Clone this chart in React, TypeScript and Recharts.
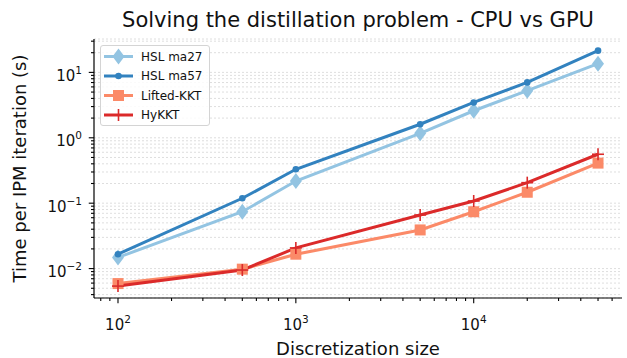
import React from "react";
import { LineChart, Line, XAxis, YAxis, CartesianGrid, Legend } from "recharts";

// discretization sizes and time per IPM iteration (s)
const sizes = [100, 500, 1000, 5000, 10000, 20000, 50000];
const ma27 = [0.0148, 0.074, 0.218, 1.17, 2.59, 5.25, 13.6];
const ma57 = [0.0166, 0.119, 0.33, 1.61, 3.47, 7.03, 21.5];
const lifted = [0.0059, 0.0098, 0.0166, 0.039, 0.074, 0.147, 0.41];
const hykkt = [0.0054, 0.0095, 0.0207, 0.066, 0.108, 0.206, 0.56];

const xMajor = [100, 1000, 10000];
const xMinor = [80, 90, 200, 300, 400, 500, 600, 700, 800, 900, 2000, 3000, 4000, 5000, 6000, 7000, 8000, 9000, 20000, 30000, 40000, 50000, 60000];
const yMajor = [0.01, 0.1, 1, 10];
const yMinor = [
  0.004, 0.005, 0.006, 0.007, 0.008, 0.009,
  0.02, 0.03, 0.04, 0.05, 0.06, 0.07, 0.08, 0.09,
  0.2, 0.3, 0.4, 0.5, 0.6, 0.7, 0.8, 0.9,
  2, 3, 4, 5, 6, 7, 8, 9, 20, 30,
];

const xTicks = [...xMinor, ...xMajor].sort((a, b) => a - b);
const yTicks = [...yMinor, ...yMajor].sort((a, b) => a - b);

const rows = sizes.map((x, i) => ({
  x,
  ma27: ma27[i],
  ma57: ma57[i],
  lifted: lifted[i],
  hykkt: hykkt[i],
}));

const C_MA27 = "#93c4e2";
const C_MA57 = "#3282bf";
const C_LIFT = "#fb8a68";
const C_HY = "#db2a2a";
const FONT = "'DejaVu Sans', sans-serif";

const isMajor = (v: number) => xMajor.includes(v) || yMajor.includes(v);

function Pow({ v, x, y, anchor }: { v: number; x: number; y: number; anchor: string }) {
  const e = Math.round(Math.log10(v));
  const exp = e < 0 ? `\u2212${-e}` : `${e}`;
  return (
    <text x={x} y={y} textAnchor={anchor} fontSize={15} fill="#111" fontFamily={FONT}>
      <tspan>10</tspan>
      <tspan dy={-7} fontSize={10.5}>{exp}</tspan>
    </text>
  );
}

function XTick(props: any) {
  const { x, y, payload } = props;
  const major = isMajor(payload.value);
  return (
    <g>
      <line x1={x} x2={x} y1={y} y2={y + (major ? 5.25 : 3)} stroke="#000" strokeWidth={1.1} />
      {major && <Pow v={payload.value} x={x} y={y + 31.5} anchor="middle" />}
    </g>
  );
}

function YTick(props: any) {
  const { x, y, payload } = props;
  const major = isMajor(payload.value);
  return (
    <g>
      <line x1={x} x2={x - (major ? 5.25 : 3)} y1={y} y2={y} stroke="#000" strokeWidth={1.1} />
      {major && <Pow v={payload.value} x={x - 12} y={y + 8.5} anchor="end" />}
    </g>
  );
}

function Diamond({ cx, cy }: { cx: number; cy: number }) {
  return <polygon points={`${cx},${cy - 8} ${cx + 6},${cy} ${cx},${cy + 8} ${cx - 6},${cy}`} fill={C_MA27} />;
}
function Dot({ cx, cy }: { cx: number; cy: number }) {
  return <circle cx={cx} cy={cy} r={3.3} fill={C_MA57} />;
}
function Square({ cx, cy }: { cx: number; cy: number }) {
  return <rect x={cx - 5.5} y={cy - 5.5} width={11} height={11} fill={C_LIFT} />;
}
function Plus({ cx, cy }: { cx: number; cy: number }) {
  return (
    <g stroke={C_HY} strokeWidth={1.6}>
      <line x1={cx - 6} x2={cx + 6} y1={cy} y2={cy} />
      <line x1={cx} x2={cx} y1={cy - 6} y2={cy + 6} />
    </g>
  );
}

const series = [
  { key: "ma27", name: "HSL ma27", color: C_MA27, Marker: Diamond },
  { key: "ma57", name: "HSL ma57", color: C_MA57, Marker: Dot },
  { key: "lifted", name: "Lifted-KKT", color: C_LIFT, Marker: Square },
  { key: "hykkt", name: "HyKKT", color: C_HY, Marker: Plus },
];

function LegendBox() {
  return (
    <div
      style={{
        width: 108,
        height: 79,
        border: "1px solid #d4d4d4",
        borderRadius: 3,
        background: "rgba(255,255,255,0.85)",
      }}
    >
      <svg width={108} height={79} style={{ display: "block" }}>
        {series.map((s, i) => {
          const cy = 10.5 + i * 19.5;
          const M = s.Marker;
          return (
            <g key={s.key}>
              <line x1={3} x2={32} y1={cy} y2={cy} stroke={s.color} strokeWidth={3} />
              <M cx={17.5} cy={cy} />
              <text x={40} y={cy + 4.3} fontSize={12} fontFamily={FONT} fill="#111">
                {s.name}
              </text>
            </g>
          );
        })}
      </svg>
    </div>
  );
}

export default function App() {
  return (
    <div style={{ position: "absolute", left: 0, top: 0, width: 627, height: 358, background: "#fff", fontFamily: FONT }}>
      <div
        style={{
          position: "absolute",
          left: 94,
          width: 528,
          top: 10,
          textAlign: "center",
          fontSize: 21,
          lineHeight: "21px",
          color: "#111",
        }}
      >
        Solving the distillation problem - CPU vs GPU
      </div>
      <LineChart width={627} height={358} data={rows} margin={{ top: 39, right: 5, bottom: 0, left: 0 }}>
        <CartesianGrid vertical={false} stroke="#dadada" strokeDasharray="2 2" strokeWidth={0.9} />
        <XAxis
          dataKey="x"
          type="number"
          scale="log"
          domain={[73.3, 68200]}
          allowDataOverflow
          ticks={xTicks}
          interval={0}
          tick={<XTick />}
          tickLine={false}
          tickSize={0}
          tickMargin={0}
          height={60}
          axisLine={{ stroke: "#000", strokeWidth: 1.2 }}
          label={{ value: "Discretization size", position: "insideBottom", offset: 3, fontSize: 18, fill: "#111" }}
        />
        <YAxis
          type="number"
          scale="log"
          domain={[0.00355, 32.4]}
          allowDataOverflow
          ticks={yTicks}
          interval={0}
          tick={<YTick />}
          tickLine={false}
          tickSize={0}
          tickMargin={0}
          width={94}
          axisLine={{ stroke: "#000", strokeWidth: 1.2 }}
          label={{
            content: () => (
              <text transform="translate(26,168.5) rotate(-90)" textAnchor="middle" fontSize={18} fill="#111" fontFamily={FONT}>
                Time per IPM iteration (s)
              </text>
            ),
          }}
        />
        <Legend
          verticalAlign="middle"
          align="center"
          layout="horizontal"
          content={() => <LegendBox />}
          wrapperStyle={{ position: "absolute", left: 100, top: 45, width: 110, height: 81 }}
        />
        {series.map((s) => (
          <Line
            key={s.key}
            type="linear"
            dataKey={s.key}
            name={s.name}
            stroke={s.color}
            strokeWidth={3}
            isAnimationActive={false}
            activeDot={false}
            dot={(p: any) => <s.Marker key={`${s.key}-${p.index}`} cx={p.cx} cy={p.cy} />}
          />
        ))}
      </LineChart>
    </div>
  );
}
